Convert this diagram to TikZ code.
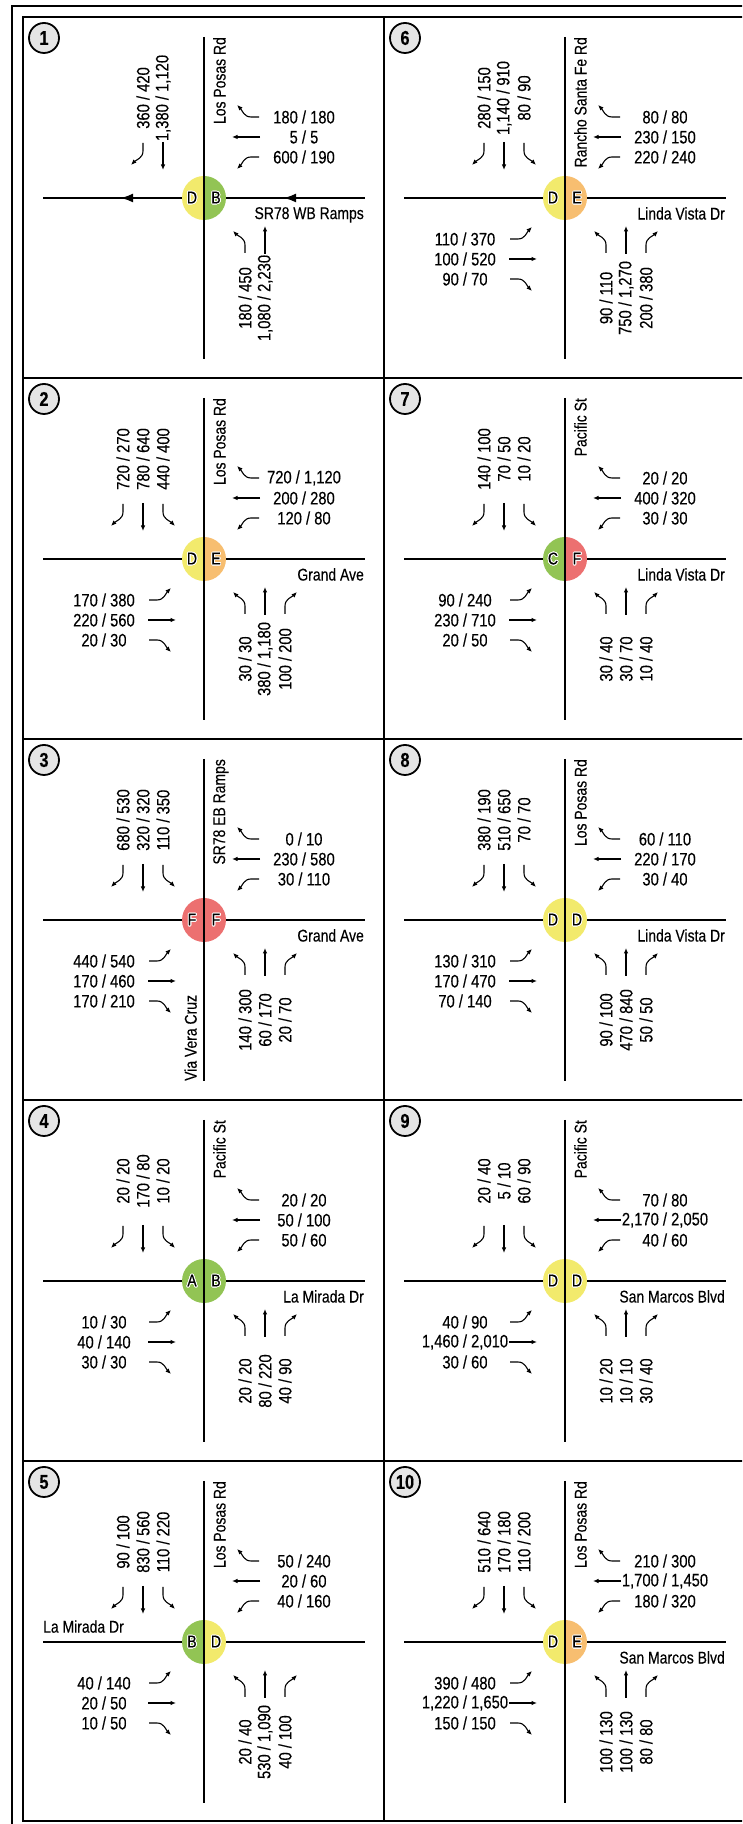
\documentclass[tikz,border=0pt]{standalone}
\usepackage{fontspec}
\setmainfont{Liberation Sans}[FakeStretch=0.82,FakeBold=0.3]
\usepackage[copies]{contour}
\contourlength{0.9pt}
\usetikzlibrary{arrows.meta}
\definecolor{losgrn}{RGB}{146,196,84}
\definecolor{losyel}{RGB}{242,234,108}
\definecolor{losorg}{RGB}{247,190,112}
\definecolor{losred}{RGB}{236,112,112}
\tikzset{
  frame/.style={line width=2.5pt},
  road/.style={line width=2.6pt},
  mv/.style={line width=1.1pt,-{Latex[length=5.5pt,width=4.5pt]}},
  vol/.style={inner sep=0pt,font=\fontsize{18}{18}\selectfont},
  street/.style={inner sep=0pt,font=\fontsize{17}{17}\selectfont},
  los/.style={inner sep=0pt,font=\fontsize{17}{17}\selectfont},
  num/.style={circle,draw,line width=1.8pt,fill=black!10,minimum size=30pt,inner sep=0pt,font=\fontsize{20}{20}\bfseries},
  oneway/.style={road,-{Latex[length=13pt,width=9pt]}}
}
% one movement, drawn for a southbound approach (scope rotates it)
\newcommand{\mvL}[4]{%
  \draw[mv] (-#2,55) -- (-#2,47) to[out=-90,in=135] ++(12,-14);
  \node[vol,rotate=#3] (#1) at (-#2,100) {#4};}
\newcommand{\mvT}[4]{%
  \draw[mv] (-#2,56) -- (-#2,28);
  \node[vol,rotate=#3] (#1) at (-#2,100) {#4};}
\newcommand{\mvR}[4]{%
  \draw[mv] (-#2,55) -- (-#2,47) to[out=-90,in=45] ++(-12,-14);
  \node[vol,rotate=#3] (#1) at (-#2,100) {#4};}
% full approach: rotation, text rotation, name, left, thru, right
\newcommand{\appr}[6]{%
  \begin{scope}[rotate=#1]
    \mvL{#3L}{41}{#2}{#4}
    \mvT{#3T}{61}{#2}{#5}
    \mvR{#3R}{81}{#2}{#6}
  \end{scope}}
% roads, LOS circle and number of one intersection
\newcommand{\panel}[6]{%
  \draw[road] (-161,0) -- (161,0);
  \fill[#3] (0,22) arc[start angle=90,end angle=270,radius=22] -- cycle;
  \fill[#5] (0,-22) arc[start angle=-90,end angle=90,radius=22] -- cycle;
  \draw[road] (0,161) -- (0,-161);
  \node[los] (#1l) at (-12,0) {\contour{white}{#4}};
  \node[los] (#1r) at (12,0) {\contour{white}{#6}};
  \node[num] (#1n) at (-160,160) {#2};}

\begin{document}
\begin{tikzpicture}[x=1pt,y=1pt]
\useasboundingbox (0,0) rectangle (742,1824);
\clip (0,0) rectangle (742,1824);
% frame and grid
\draw[frame] (12,-20) rectangle (780,1818);
\draw[frame] (23,3) rectangle (745,1807);
\draw[frame] (384,3) -- (384,1807);
\draw[frame] (23,1446) -- (745,1446);
\draw[frame] (23,1085) -- (745,1085);
\draw[frame] (23,724) -- (745,724);
\draw[frame] (23,363) -- (745,363);

% 1
\begin{scope}[shift={(204,1626)}]
  \panel{p1}{1}{losyel}{D}{losgrn}{B}
  \draw[oneway] (110,0) -- (79,0);
  \draw[oneway] (-40,0) -- (-84,0);
  \begin{scope}[rotate=0]
    \mvR{p1sR}{61}{90}{360 / 420}
    \mvT{p1sT}{41}{90}{1,380 / 1,120}
  \end{scope}
  \appr{-90}{0}{p1w}{600 / 190}{5 / 5}{180 / 180}
  \begin{scope}[rotate=180]
    \mvL{p1nL}{41}{90}{180 / 450}
    \mvT{p1nT}{61}{90}{1,080 / 2,230}
  \end{scope}
  \node[street,rotate=90,anchor=north east] (p1v) at (9,161) {Los Posas Rd};
  \node[street,anchor=north east] (p1h) at (160,-9) {SR78 WB Ramps};
\end{scope}

% 2
\begin{scope}[shift={(204,1265)}]
  \panel{p2}{2}{losyel}{D}{losorg}{E}
  \appr{0}{90}{p2s}{440 / 400}{780 / 640}{720 / 270}
  \appr{-90}{0}{p2w}{120 / 80}{200 / 280}{720 / 1,120}
  \appr{90}{0}{p2e}{170 / 380}{220 / 560}{20 / 30}
  \appr{180}{90}{p2n}{30 / 30}{380 / 1,180}{100 / 200}
  \node[street,rotate=90,anchor=north east] (p2v) at (9,161) {Los Posas Rd};
  \node[street,anchor=north east] (p2h) at (160,-9) {Grand Ave};
\end{scope}

% 3
\begin{scope}[shift={(204,904)}]
  \panel{p3}{3}{losred}{F}{losred}{F}
  \appr{0}{90}{p3s}{110 / 350}{320 / 320}{680 / 530}
  \appr{-90}{0}{p3w}{30 / 110}{230 / 580}{0 / 10}
  \appr{90}{0}{p3e}{440 / 540}{170 / 460}{170 / 210}
  \appr{180}{90}{p3n}{140 / 300}{60 / 170}{20 / 70}
  \node[street,rotate=90,anchor=north east] (p3v) at (9,161) {SR78 EB Ramps};
  \node[street,anchor=north east] (p3h) at (160,-9) {Grand Ave};
  \node[street,rotate=90,anchor=south west] (p3x) at (-7,-161) {Via Vera Cruz};
\end{scope}

% 4
\begin{scope}[shift={(204,543)}]
  \panel{p4}{4}{losgrn}{A}{losgrn}{B}
  \appr{0}{90}{p4s}{10 / 20}{170 / 80}{20 / 20}
  \appr{-90}{0}{p4w}{50 / 60}{50 / 100}{20 / 20}
  \appr{90}{0}{p4e}{10 / 30}{40 / 140}{30 / 30}
  \appr{180}{90}{p4n}{20 / 20}{80 / 220}{40 / 90}
  \node[street,rotate=90,anchor=north east] (p4v) at (9,161) {Pacific St};
  \node[street,anchor=north east] (p4h) at (160,-9) {La Mirada Dr};
\end{scope}

% 5
\begin{scope}[shift={(204,182)}]
  \panel{p5}{5}{losgrn}{B}{losyel}{D}
  \appr{0}{90}{p5s}{110 / 220}{830 / 560}{90 / 100}
  \appr{-90}{0}{p5w}{40 / 160}{20 / 60}{50 / 240}
  \appr{90}{0}{p5e}{40 / 140}{20 / 50}{10 / 50}
  \appr{180}{90}{p5n}{20 / 40}{530 / 1,090}{40 / 100}
  \node[street,rotate=90,anchor=north east] (p5v) at (9,161) {Los Posas Rd};
  \node[street,anchor=south west] (p5h) at (-161,9) {La Mirada Dr};
\end{scope}

% 6
\begin{scope}[shift={(565,1626)}]
  \panel{p6}{6}{losyel}{D}{losorg}{E}
  \appr{0}{90}{p6s}{80 / 90}{1,140 / 910}{280 / 150}
  \appr{-90}{0}{p6w}{220 / 240}{230 / 150}{80 / 80}
  \appr{90}{0}{p6e}{110 / 370}{100 / 520}{90 / 70}
  \appr{180}{90}{p6n}{90 / 110}{750 / 1,270}{200 / 380}
  \node[street,rotate=90,anchor=north east] (p6v) at (9,161) {Rancho Santa Fe Rd};
  \node[street,anchor=north east] (p6h) at (160,-9) {Linda Vista Dr};
\end{scope}

% 7
\begin{scope}[shift={(565,1265)}]
  \panel{p7}{7}{losgrn}{C}{losred}{F}
  \appr{0}{90}{p7s}{10 / 20}{70 / 50}{140 / 100}
  \appr{-90}{0}{p7w}{30 / 30}{400 / 320}{20 / 20}
  \appr{90}{0}{p7e}{90 / 240}{230 / 710}{20 / 50}
  \appr{180}{90}{p7n}{30 / 40}{30 / 70}{10 / 40}
  \node[street,rotate=90,anchor=north east] (p7v) at (9,161) {Pacific St};
  \node[street,anchor=north east] (p7h) at (160,-9) {Linda Vista Dr};
\end{scope}

% 8
\begin{scope}[shift={(565,904)}]
  \panel{p8}{8}{losyel}{D}{losyel}{D}
  \appr{0}{90}{p8s}{70 / 70}{510 / 650}{380 / 190}
  \appr{-90}{0}{p8w}{30 / 40}{220 / 170}{60 / 110}
  \appr{90}{0}{p8e}{130 / 310}{170 / 470}{70 / 140}
  \appr{180}{90}{p8n}{90 / 100}{470 / 840}{50 / 50}
  \node[street,rotate=90,anchor=north east] (p8v) at (9,161) {Los Posas Rd};
  \node[street,anchor=north east] (p8h) at (160,-9) {Linda Vista Dr};
\end{scope}

% 9
\begin{scope}[shift={(565,543)}]
  \panel{p9}{9}{losyel}{D}{losyel}{D}
  \appr{0}{90}{p9s}{60 / 90}{5 / 10}{20 / 40}
  \appr{-90}{0}{p9w}{40 / 60}{2,170 / 2,050}{70 / 80}
  \appr{90}{0}{p9e}{40 / 90}{1,460 / 2,010}{30 / 60}
  \appr{180}{90}{p9n}{10 / 20}{10 / 10}{30 / 40}
  \node[street,rotate=90,anchor=north east] (p9v) at (9,161) {Pacific St};
  \node[street,anchor=north east] (p9h) at (160,-9) {San Marcos Blvd};
\end{scope}

% 10
\begin{scope}[shift={(565,182)}]
  \panel{p10}{10}{losyel}{D}{losorg}{E}
  \appr{0}{90}{p10s}{110 / 200}{170 / 180}{510 / 640}
  \appr{-90}{0}{p10w}{180 / 320}{1,700 / 1,450}{210 / 300}
  \appr{90}{0}{p10e}{390 / 480}{1,220 / 1,650}{150 / 150}
  \appr{180}{90}{p10n}{100 / 130}{100 / 130}{80 / 80}
  \node[street,rotate=90,anchor=north east] (p10v) at (9,161) {Los Posas Rd};
  \node[street,anchor=north east] (p10h) at (160,-9) {San Marcos Blvd};
\end{scope}
\end{tikzpicture}
\end{document}
